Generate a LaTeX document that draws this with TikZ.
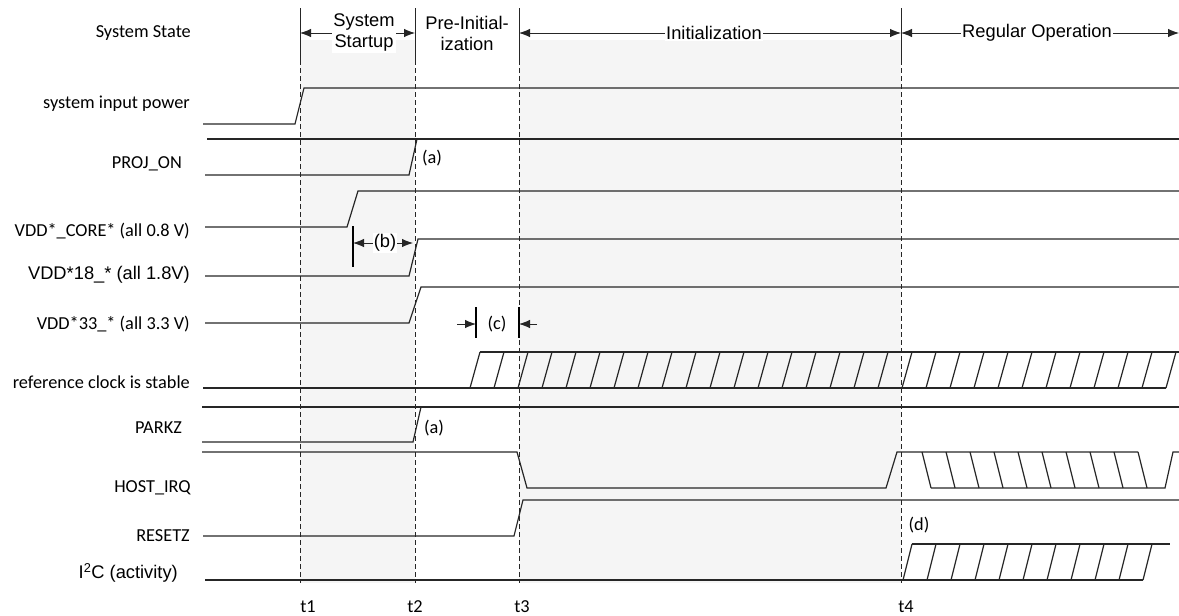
\documentclass[tikz,border=0pt]{standalone}
\usepackage{fontspec}
\usepackage{tikz}
\usetikzlibrary{arrows.meta, calc}
\newfontfamily\calfont{Carlito}
\newfontfamily\arfont{Liberation Sans}
\newcommand{\lblsize}{\fontsize{18.3}{21}\selectfont}

\begin{document}
\begin{tikzpicture}[x=1pt, y=-1pt, >={Latex[length=11pt,width=8.5pt]},
    sig/.style={line width=1.2pt, black!85},
    tmark/.style={line width=0.9pt, black!85},
    bar/.style={line width=1.6pt, black},
    cal/.style={font=\calfont\lblsize, inner sep=0pt},
    ari/.style={font=\arfont\lblsize, inner sep=0pt},
    phase/.style={font=\arfont\lblsize, align=center, fill=white, inner sep=1pt}]
    \useasboundingbox (0,0) rectangle (1179,616);
    % shaded phases
    \fill[black!4] (300,40) rectangle (415,583);
    \fill[black!4] (519,40) rectangle (901,583);
    % time markers
    \foreach \x/\dx/\n in {300/8/1, 415/0/2, 519/3/3, 901/5/4} {
        \coordinate (m\n) at (\x,33);
        \draw[tmark] (\x,8) -- (\x,60);
        \draw[tmark, dash pattern=on 5pt off 3pt] (\x,60) -- (\x,583);
        \node[cal, anchor=base] (tl\n) at (\x+\dx,612) {t\n};
    }
    \coordinate (mend) at (1179,33);
    % system state row
    \node[cal, anchor=east] (state) at (191,33) {System State};
    \draw[<->, tmark] (m1) -- (m2);
    \draw[<->, tmark] (m3) -- (m4);
    \draw[<->, tmark] (m4) -- (mend);
    \node[phase] (startup) at (364,33) {System\\Startup};
    \node[phase, fill=none] (preinit) at (467,33) {Pre-Initial-\\ization};
    \node[phase] (init) at (714,33) {Initialization};
    \node[phase] (regop) at (1037,33) {Regular Operation};
    % signal names
    \node[cal, anchor=east] (lpow) at (190,104) {system input power};
    \node[cal, anchor=east] (lproj) at (182,164) {PROJ\_ON};
    \node[cal, anchor=east] (lcore) at (190,231) {VDD*\_CORE* (all 0.8 V)};
    \node[ari, anchor=east] (l18) at (190,275) {VDD*18\_* (all 1.8V)};
    \node[cal, anchor=east] (l33) at (190,324) {VDD*33\_* (all 3.3 V)};
    \node[cal, anchor=east] (lclk) at (190,382) {reference clock is stable};
    \node[cal, anchor=east] (lpark) at (182,428) {PARKZ};
    \node[cal, anchor=east] (lirq) at (191,488) {HOST\_IRQ};
    \node[cal, anchor=east] (lrst) at (190,536) {RESETZ};
    \node[ari, anchor=east] (li2c) at (178,573) {I\textsuperscript{2}C (activity)};
    % waveforms
    \draw[sig] (203,124) -- (295,124) -- (304,88) -- (1179,88);
    \draw[sig] (207,139) -- (1179,139);
    \draw[sig] (205,175) -- (409,175) -- (417,139);
    \draw[sig] (205,227) -- (347,227) -- (358,191) -- (1179,191);
    \draw[sig] (205,276) -- (409,276) -- (418,239) -- (1179,239);
    \draw[sig] (205,323) -- (409,323) -- (421,287) -- (1179,287);
    % reference clock
    \draw[sig] (203,388) -- (1166,388);
    \draw[sig] (480,352) -- (1179,352);
    \foreach \k in {0,...,29}
        \draw[sig] (470+24*\k,388) -- (480+24*\k,352);
    % PARKZ
    \draw[sig] (202,407) -- (1179,407);
    \draw[sig] (202,442) -- (413,442) -- (421,407);
    % HOST_IRQ
    \draw[sig] (202,452) -- (517,452) -- (527,488) -- (886,488) -- (897,452) -- (1138,452);
    \draw[sig] (931,488) -- (1165,488) -- (1173,452) -- (1179,452);
    \foreach \k in {0,...,9}
        \draw[sig] (922+24*\k,452) -- (931+24*\k,488);
    % RESETZ
    \draw[sig] (203,536) -- (514,536) -- (523,500) -- (1179,500);
    % I2C
    \draw[sig] (205,580) -- (903,580) -- (1143,580);
    \draw[sig] (912,544) -- (1170,544);
    \foreach \k in {0,...,10}
        \draw[sig] (903+24*\k,580) -- (912+24*\k,544);
    % notes
    \node[cal] (na1) at (432,158) {(a)};
    \node[cal] (na2) at (434,428) {(a)};
    \node[cal] (nd) at (919,525) {(d)};
    % (b) interval
    \coordinate (b1) at (353,243);
    \coordinate (b2) at (413,243);
    \draw[bar] (353,226) -- (353,267);
    \draw[<->, tmark] (b1) -- (b2);
    \node[ari, fill=white, inner sep=1pt] (nb) at (385,243) {(b)};
    % (c) interval
    \coordinate (c1) at (476,324);
    \coordinate (c2) at (519,324);
    \draw[bar] (476,307) -- (476,338);
    \draw[bar] (519,307) -- (519,338);
    \draw[->, tmark] (457,324) -- (c1);
    \draw[->, tmark] (537,324) -- (c2);
    \node[cal] (nc) at (497,324) {(c)};
\end{tikzpicture}
\end{document}
